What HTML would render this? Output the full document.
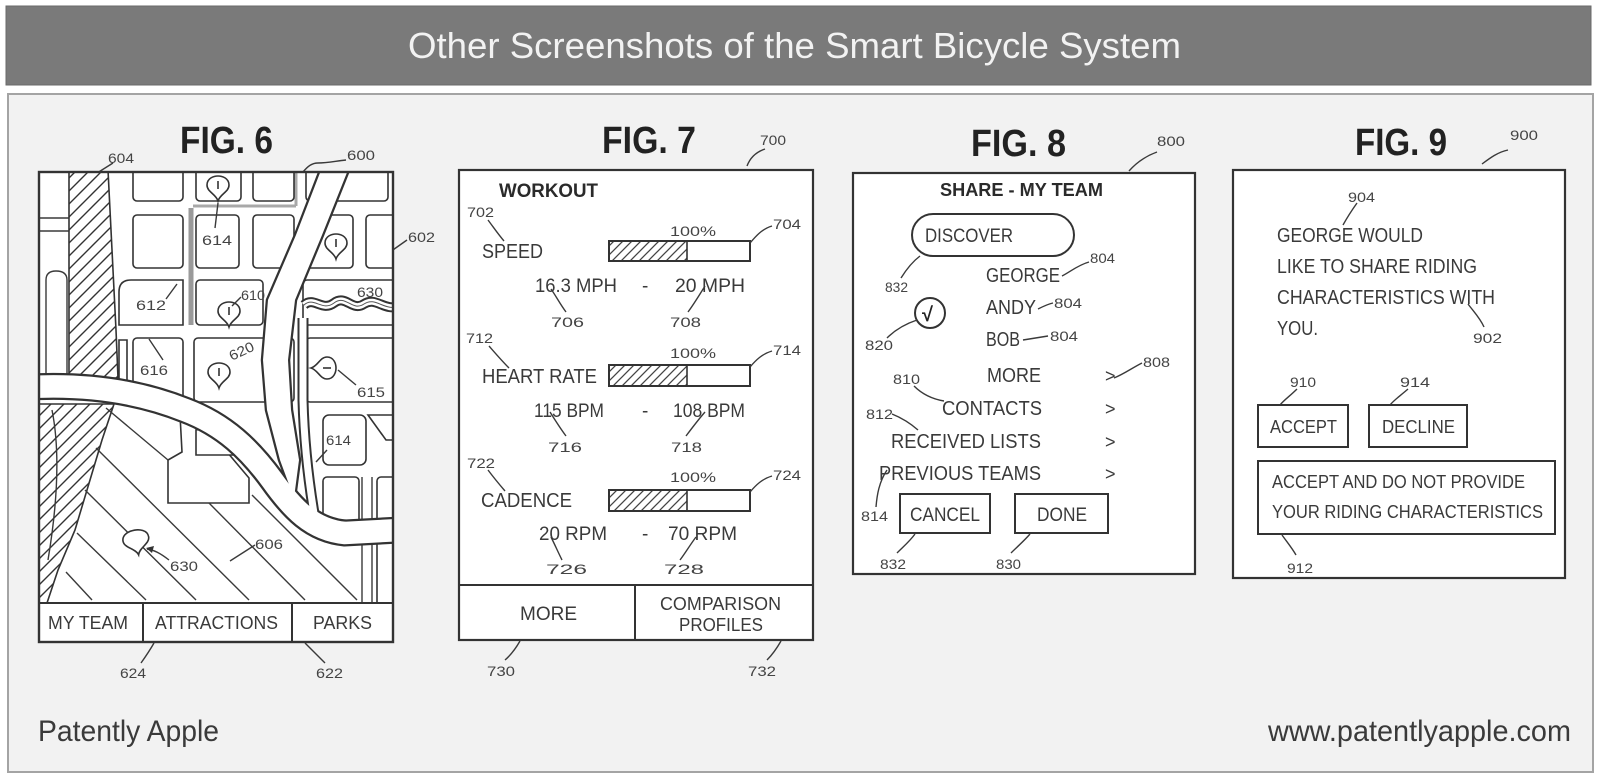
<!DOCTYPE html>
<html><head><meta charset="utf-8"><title>Other Screenshots of the Smart Bicycle System</title>
<style>
html,body{margin:0;padding:0;background:#fff;}
svg{display:block;}
text{font-family:"Liberation Sans",Arial,sans-serif;}
.t{fill:#3a3a3a;font-size:20px;}
.n{fill:#444;font-size:14px;}
.b{fill:#2a2a2a;font-size:19px;font-weight:bold;}
.f{fill:#222;font-size:38px;font-weight:bold;}
.ln{stroke:#3a3a3a;stroke-width:1.4;fill:none;}
.bx{stroke:#333;stroke-width:2.2;fill:#fff;}
.blk{stroke:#333;stroke-width:1.6;fill:#fff;}
</style></head>
<body>
<svg width="1600" height="784" viewBox="0 0 1600 784" xmlns="http://www.w3.org/2000/svg">
<defs>
  <pattern id="hb" patternUnits="userSpaceOnUse" width="9" height="9">
    <path d="M0,9 L9,0 M-2,2 L2,-2 M7,11 L11,7" stroke="#444" stroke-width="1.3"/>
  </pattern>
  <pattern id="hl" patternUnits="userSpaceOnUse" width="13" height="13">
    <path d="M0,13 L13,0 M-3,3 L3,-3 M10,16 L16,10" stroke="#333" stroke-width="1.4"/>
  </pattern>
  <clipPath id="mc"><rect x="40" y="172" width="353" height="431"/></clipPath>
</defs>

<!-- header -->
<rect x="0" y="0" width="1600" height="784" fill="#fff"/>
<rect x="6" y="6" width="1585" height="79" fill="#7a7a7a" stroke="#6a6a6a" stroke-width="1"/>
<text x="408" y="58" style="fill:#f2f2f2;font-size:36px" textLength="773" lengthAdjust="spacingAndGlyphs">Other Screenshots of the Smart Bicycle System</text>

<!-- panel -->
<rect x="8" y="94" width="1585" height="678" fill="#f2f2f2" stroke="#a4a4a4" stroke-width="2"/>

<!-- ================= FIG 6 ================= -->
<text class="f" x="180" y="153" textLength="93" lengthAdjust="spacingAndGlyphs">FIG. 6</text>
<text class="n" x="108" y="163" textLength="26" lengthAdjust="spacingAndGlyphs">604</text>
<path class="ln" d="M86,180 L113,163"/>
<text class="n" x="347" y="160" textLength="28" lengthAdjust="spacingAndGlyphs">600</text>
<path class="ln" d="M303,172 C308,166 312,163 318,163 C328,163 336,161 346,160"/>
<text class="n" x="408" y="242" textLength="27" lengthAdjust="spacingAndGlyphs">602</text>
<path class="ln" d="M390,252 L407,240"/>

<rect x="39" y="172" width="354" height="470" fill="#fff"/>
<g clip-path="url(#mc)">
  <!-- gray route highlights -->
  <path d="M191,208 L191,325" stroke="#9a9a9a" stroke-width="5"/>
  <path d="M193,206 L296,206" stroke="#a8a8a8" stroke-width="3"/>
  <path d="M296,170 L296,206" stroke="#a8a8a8" stroke-width="3"/>
  <!-- blocks -->
  <rect class="blk" x="133" y="160" width="50" height="41" rx="4"/>
  <rect class="blk" x="196" y="160" width="45" height="41" rx="4"/>
  <rect class="blk" x="253" y="160" width="41" height="41" rx="4"/>
  <rect class="blk" x="306" y="160" width="82" height="41" rx="4"/>
  <rect class="blk" x="133" y="215" width="50" height="53" rx="4"/>
  <rect class="blk" x="196" y="215" width="43" height="53" rx="4"/>
  <rect class="blk" x="253" y="215" width="41" height="53" rx="4"/>
  <rect class="blk" x="306" y="215" width="47" height="53" rx="4"/>
  <rect class="blk" x="366" y="215" width="40" height="53" rx="4"/>
  <path class="blk" d="M119,325 L119,292 Q119,280 131,280 L183,280 L183,325 Z"/>
  <rect class="blk" x="196" y="280" width="67" height="45" rx="4"/>
  <rect class="blk" x="303" y="280" width="100" height="45" rx="4"/>
  <path class="blk" d="M119,340 L119,395 L127,395 L127,340 Z"/>
  <rect class="blk" x="133" y="338" width="50" height="64" rx="4"/>
  <rect class="blk" x="194" y="338" width="100" height="64" rx="4"/>
  <rect class="blk" x="306" y="338" width="100" height="64" rx="4"/>
  <rect class="blk" x="323" y="415" width="43" height="50" rx="6"/>
  <path class="blk" d="M368,415 L400,415 L400,440 L386,440 Z"/>
  <path class="blk" d="M179,396 L182,452 L168,460 L168,503 L249,503 L249,478 L200,420 Z"/>
  <path class="blk" d="M196,430 L210,428 L236,455 L196,455 Z"/>
  <rect class="blk" x="323" y="477" width="36" height="55" rx="4"/>
  <path class="ln" d="M362,477 L362,610 M372,477 L372,610" stroke-width="1.6"/>
  <rect class="blk" x="377" y="477" width="24" height="140" rx="4"/>
  <!-- left side roads -->
  <path class="ln" d="M40,218 L69,218 M40,231 L69,231" stroke-width="1.6"/>
  <path class="ln" d="M46,380 L46,280 Q46,271 56,271 Q67,271 67,280 L67,380" stroke-width="1.6"/>
  <!-- hatched areas -->
  <path d="M69,170 L108,170 L112,250 L116,330 L118,378 L69,378 Z" fill="url(#hl)" stroke="#333" stroke-width="1.6"/>
  <path d="M38,404 L114,404 L102,440 L90,480 L75,530 L58,570 L46,606 L38,606 Z" fill="url(#hl)" stroke="#333" stroke-width="1.6"/>
  <path class="ln" d="M52,410 C60,450 58,500 48,560" stroke-width="1.6"/>
  <!-- park diagonal lines -->
  <g class="ln" stroke-width="1.6">
    <path d="M106,408 L168,460"/>
    <path d="M96,448 L249,600"/>
    <path d="M85,490 L196,600"/>
    <path d="M77,533 L146,600"/>
    <path d="M66,572 L92,600"/>
    <path d="M209,503 L305,600"/>
    <path d="M252,495 L357,600"/>
  </g>
  <!-- roads pass 1 (outline) -->
  <path d="M30,387 C90,384 140,392 185,410 C225,425 250,450 272,480 C292,508 312,530 345,533 L400,530" stroke="#333" stroke-width="27" fill="none"/>
  <polygon points="323,165 350,165 322,235 295,300 288,360 291,410 299,460 294,498 280,460 267,410 263,360 268,300 296,235" fill="#333" stroke="#333" stroke-width="4.5" stroke-linejoin="round"/>
  <path d="M303,318 L303,400 C304,440 308,480 316,525" stroke="#333" stroke-width="11" fill="none"/>
  <path d="M304,305 C314,296 322,312 334,303 C346,294 352,312 364,304 C376,296 384,312 400,306" stroke="#333" stroke-width="10" fill="none"/>
  <!-- roads pass 2 (white) -->
  <path d="M30,387 C90,384 140,392 185,410 C225,425 250,450 272,480 C292,508 312,530 345,533 L400,530" stroke="#fff" stroke-width="22.5" fill="none"/>
  <polygon points="323,165 350,165 322,235 295,300 288,360 291,410 299,460 294,498 280,460 267,410 263,360 268,300 296,235" fill="#fff"/>
  <path d="M303,318 L303,400 C304,440 308,480 316,525" stroke="#fff" stroke-width="7" fill="none"/>
  <path d="M304,305 C314,296 322,312 334,303 C346,294 352,312 364,304 C376,296 384,312 400,306" stroke="#fff" stroke-width="6" fill="none"/>
  <path d="M304,305 C314,296 322,312 334,303 C346,294 352,312 364,304 C376,296 384,312 400,306" stroke="#555" stroke-width="1" fill="none"/>
  <!-- pins -->
  <g stroke="#333" stroke-width="1.6" fill="#fff">
    <g transform="translate(218,186)"><path d="M0,15 C-2,8 -11,6 -11,-1 C-11,-8 -4,-10 0,-10 C4,-10 11,-8 11,-1 C11,6 2,8 0,15 Z"/><path d="M0,-5 L0,3"/></g>
    <g transform="translate(336,244)"><path d="M0,15 C-2,8 -11,6 -11,-1 C-11,-8 -4,-10 0,-10 C4,-10 11,-8 11,-1 C11,6 2,8 0,15 Z"/><path d="M0,-5 L0,3"/></g>
    <g transform="translate(229,312)"><path d="M0,15 C-2,8 -11,6 -11,-1 C-11,-8 -4,-10 0,-10 C4,-10 11,-8 11,-1 C11,6 2,8 0,15 Z"/><path d="M0,-5 L0,3"/></g>
    <g transform="translate(219,373)"><path d="M0,15 C-2,8 -11,6 -11,-1 C-11,-8 -4,-10 0,-10 C4,-10 11,-8 11,-1 C11,6 2,8 0,15 Z"/><path d="M0,-5 L0,3"/></g>
    <g transform="translate(326,368) rotate(90)"><path d="M0,15 C-2,8 -11,6 -11,-1 C-11,-8 -4,-10 0,-10 C4,-10 11,-8 11,-1 C11,6 2,8 0,15 Z"/><path d="M0,-5 L0,3"/></g>
    <g transform="translate(136,540) rotate(-10)"><path d="M0,15 C-2,8 -13,6 -13,-1 C-13,-8 -5,-10 0,-10 C5,-10 13,-8 13,-1 C13,6 2,8 0,15 Z"/></g>
  </g>
  <!-- map labels -->
  <text class="n" x="202" y="245" textLength="30" lengthAdjust="spacingAndGlyphs">614</text>
  <path class="ln" d="M218,203 L215,228"/>
  <text class="n" x="136" y="310" textLength="30" lengthAdjust="spacingAndGlyphs">612</text>
  <path class="ln" d="M166,299 L177,284"/>
  <text class="n" x="241" y="300" textLength="24" lengthAdjust="spacingAndGlyphs">610</text>
  <path class="ln" d="M232,306 L241,297"/>
  <text class="n" x="357" y="297" textLength="26" lengthAdjust="spacingAndGlyphs">630</text>
  <text class="n" x="228" y="356" textLength="26" lengthAdjust="spacingAndGlyphs" transform="rotate(-25 241 350)">620</text>
  <text class="n" x="140" y="375" textLength="28" lengthAdjust="spacingAndGlyphs">616</text>
  <path class="ln" d="M149,339 L163,360"/>
  <text class="n" x="357" y="397" textLength="28" lengthAdjust="spacingAndGlyphs">615</text>
  <path class="ln" d="M338,370 L356,385"/>
  <text class="n" x="326" y="445" textLength="25" lengthAdjust="spacingAndGlyphs">614</text>
  <path class="ln" d="M316,462 L327,450"/>
  <text class="n" x="255" y="549" textLength="28" lengthAdjust="spacingAndGlyphs">606</text>
  <path class="ln" d="M230,561 L255,545"/>
  <text class="n" x="170" y="571" textLength="28" lengthAdjust="spacingAndGlyphs">630</text>
  <path class="ln" d="M169,560 C160,553 154,550 147,549"/>
  <path d="M146,548 L154,546 L152,553 Z" fill="#333"/>
</g>
<!-- fig6 frame and tabs -->
<rect x="39" y="603" width="354" height="39" fill="#fff"/>
<rect x="39" y="172" width="354" height="470" fill="none" stroke="#333" stroke-width="2.4"/>
<path d="M39,603 L393,603 M143,603 L143,642 M292,603 L292,642" stroke="#333" stroke-width="2"/>
<text class="t" x="48" y="629" style="font-size:18px" textLength="80" lengthAdjust="spacingAndGlyphs">MY TEAM</text>
<text class="t" x="155" y="629" style="font-size:18px" textLength="123" lengthAdjust="spacingAndGlyphs">ATTRACTIONS</text>
<text class="t" x="313" y="629" style="font-size:18px" textLength="59" lengthAdjust="spacingAndGlyphs">PARKS</text>
<text class="n" x="120" y="678" textLength="26" lengthAdjust="spacingAndGlyphs">624</text>
<path class="ln" d="M154,643 C150,650 146,656 141,663"/>
<text class="n" x="316" y="678" textLength="27" lengthAdjust="spacingAndGlyphs">622</text>
<path class="ln" d="M305,643 C312,650 318,656 325,663"/>

<!-- ================= FIG 7 ================= -->
<text class="f" x="602" y="153" textLength="94" lengthAdjust="spacingAndGlyphs">FIG. 7</text>
<text class="n" x="760" y="145" textLength="26" lengthAdjust="spacingAndGlyphs">700</text>
<path class="ln" d="M747,166 C750,158 756,152 765,149"/>
<rect class="bx" x="459" y="170" width="354" height="470"/>
<text class="b" x="499" y="197" textLength="99" lengthAdjust="spacingAndGlyphs">WORKOUT</text>

<text class="n" x="467" y="217" textLength="27" lengthAdjust="spacingAndGlyphs">702</text>
<path class="ln" d="M488,220 C494,228 498,234 504,241"/>
<text class="t" x="482" y="258" textLength="61" lengthAdjust="spacingAndGlyphs">SPEED</text>
<text class="n" x="670" y="236" textLength="46" lengthAdjust="spacingAndGlyphs">100%</text>
<rect x="609" y="241" width="78" height="20" fill="url(#hb)"/>
<rect x="609" y="241" width="141" height="20" fill="none" stroke="#333" stroke-width="2"/>
<path d="M687,241 L687,261" stroke="#333" stroke-width="1.6"/>
<text class="n" x="773" y="229" textLength="28" lengthAdjust="spacingAndGlyphs">704</text>
<path class="ln" d="M750,243 C756,236 762,229 772,226"/>
<text class="t" x="535" y="292" style="font-size:19px" textLength="82" lengthAdjust="spacingAndGlyphs">16.3 MPH</text>
<text class="t" x="642" y="292" style="font-size:19px">-</text>
<text class="t" x="675" y="292" style="font-size:19px" textLength="70" lengthAdjust="spacingAndGlyphs">20 MPH</text>
<text class="n" x="551" y="327" textLength="33" lengthAdjust="spacingAndGlyphs">706</text>
<path class="ln" d="M566,312 C560,304 556,296 551,289"/>
<text class="n" x="670" y="327" textLength="31" lengthAdjust="spacingAndGlyphs">708</text>
<path class="ln" d="M688,312 C694,304 700,294 705,286"/>

<text class="n" x="466" y="343" textLength="27" lengthAdjust="spacingAndGlyphs">712</text>
<path class="ln" d="M489,346 C496,354 502,361 509,368"/>
<text class="t" x="482" y="383" textLength="115" lengthAdjust="spacingAndGlyphs">HEART RATE</text>
<text class="n" x="670" y="358" textLength="46" lengthAdjust="spacingAndGlyphs">100%</text>
<rect x="609" y="365" width="78" height="21" fill="url(#hb)"/>
<rect x="609" y="365" width="141" height="21" fill="none" stroke="#333" stroke-width="2"/>
<path d="M687,365 L687,386" stroke="#333" stroke-width="1.6"/>
<text class="n" x="773" y="355" textLength="28" lengthAdjust="spacingAndGlyphs">714</text>
<path class="ln" d="M750,367 C756,360 762,354 772,351"/>
<text class="t" x="534" y="417" style="font-size:19px" textLength="70" lengthAdjust="spacingAndGlyphs">115 BPM</text>
<text class="t" x="642" y="417" style="font-size:19px">-</text>
<text class="t" x="673" y="417" style="font-size:19px" textLength="72" lengthAdjust="spacingAndGlyphs">108 BPM</text>
<text class="n" x="548" y="452" textLength="34" lengthAdjust="spacingAndGlyphs">716</text>
<path class="ln" d="M566,436 C560,428 555,420 550,412"/>
<text class="n" x="671" y="452" textLength="31" lengthAdjust="spacingAndGlyphs">718</text>
<path class="ln" d="M686,436 C692,428 698,420 705,412"/>

<text class="n" x="467" y="468" textLength="28" lengthAdjust="spacingAndGlyphs">722</text>
<path class="ln" d="M488,470 C494,478 499,484 505,491"/>
<text class="t" x="481" y="507" textLength="91" lengthAdjust="spacingAndGlyphs">CADENCE</text>
<text class="n" x="670" y="482" textLength="46" lengthAdjust="spacingAndGlyphs">100%</text>
<rect x="609" y="490" width="78" height="21" fill="url(#hb)"/>
<rect x="609" y="490" width="141" height="21" fill="none" stroke="#333" stroke-width="2"/>
<path d="M687,490 L687,511" stroke="#333" stroke-width="1.6"/>
<text class="n" x="773" y="480" textLength="28" lengthAdjust="spacingAndGlyphs">724</text>
<path class="ln" d="M750,492 C756,485 762,479 772,476"/>
<text class="t" x="539" y="540" style="font-size:19px" textLength="68" lengthAdjust="spacingAndGlyphs">20 RPM</text>
<text class="t" x="642" y="540" style="font-size:19px">-</text>
<text class="t" x="668" y="540" style="font-size:19px" textLength="69" lengthAdjust="spacingAndGlyphs">70 RPM</text>
<text class="n" x="546" y="574" textLength="41" lengthAdjust="spacingAndGlyphs">726</text>
<path class="ln" d="M562,560 C558,552 555,545 551,537"/>
<text class="n" x="664" y="574" textLength="40" lengthAdjust="spacingAndGlyphs">728</text>
<path class="ln" d="M680,560 C686,552 690,545 696,537"/>

<path d="M459,585 L813,585 M635,585 L635,640" stroke="#333" stroke-width="2"/>
<text class="t" x="520" y="620" style="font-size:19px" textLength="57" lengthAdjust="spacingAndGlyphs">MORE</text>
<text class="t" x="660" y="610" style="font-size:18px" textLength="121" lengthAdjust="spacingAndGlyphs">COMPARISON</text>
<text class="t" x="679" y="631" style="font-size:18px" textLength="84" lengthAdjust="spacingAndGlyphs">PROFILES</text>
<text class="n" x="487" y="676" textLength="28" lengthAdjust="spacingAndGlyphs">730</text>
<path class="ln" d="M520,641 C516,648 512,654 505,660"/>
<text class="n" x="748" y="676" textLength="28" lengthAdjust="spacingAndGlyphs">732</text>
<path class="ln" d="M781,641 C777,648 773,654 767,660"/>

<!-- ================= FIG 8 ================= -->
<text class="f" x="971" y="156" textLength="95" lengthAdjust="spacingAndGlyphs">FIG. 8</text>
<text class="n" x="1157" y="146" textLength="28" lengthAdjust="spacingAndGlyphs">800</text>
<path class="ln" d="M1129,171 C1136,163 1146,156 1157,152"/>
<rect class="bx" x="853" y="173" width="342" height="401"/>
<text class="b" x="940" y="196" style="font-size:18px" textLength="163" lengthAdjust="spacingAndGlyphs">SHARE - MY TEAM</text>
<rect x="912" y="214" width="162" height="42" rx="21" fill="#fff" stroke="#333" stroke-width="2"/>
<text class="t" x="925" y="242" style="font-size:19px" textLength="88" lengthAdjust="spacingAndGlyphs">DISCOVER</text>
<text class="t" x="986" y="282" textLength="74" lengthAdjust="spacingAndGlyphs">GEORGE</text>
<path class="ln" d="M1062,276 C1070,272 1078,265 1089,262"/>
<text class="n" x="1090" y="263" textLength="25" lengthAdjust="spacingAndGlyphs">804</text>
<text class="t" x="986" y="314" textLength="50" lengthAdjust="spacingAndGlyphs">ANDY</text>
<path class="ln" d="M1038,309 C1044,306 1048,304 1053,303"/>
<text class="n" x="1054" y="308" textLength="28" lengthAdjust="spacingAndGlyphs">804</text>
<text class="t" x="986" y="346" textLength="34" lengthAdjust="spacingAndGlyphs">BOB</text>
<path class="ln" d="M1023,340 L1048,336"/>
<text class="n" x="1050" y="341" textLength="28" lengthAdjust="spacingAndGlyphs">804</text>
<text class="n" x="885" y="292" textLength="23" lengthAdjust="spacingAndGlyphs">832</text>
<path class="ln" d="M901,278 C906,270 912,262 920,256"/>
<circle cx="930" cy="313" r="15" fill="#fff" stroke="#333" stroke-width="2"/>
<text x="922" y="321" style="fill:#222;font-size:20px;font-weight:bold">√</text>
<text class="n" x="865" y="350" textLength="28" lengthAdjust="spacingAndGlyphs">820</text>
<path class="ln" d="M887,338 C895,330 905,324 917,320"/>
<text class="t" x="987" y="382" textLength="54" lengthAdjust="spacingAndGlyphs">MORE</text>
<text class="t" x="1105" y="382" style="font-size:18px">&gt;</text>
<path class="ln" d="M1114,378 C1124,374 1132,368 1142,363"/>
<text class="n" x="1143" y="367" textLength="27" lengthAdjust="spacingAndGlyphs">808</text>
<text class="n" x="893" y="384" textLength="27" lengthAdjust="spacingAndGlyphs">810</text>
<path class="ln" d="M914,386 C922,394 932,399 944,401"/>
<text class="t" x="942" y="415" textLength="100" lengthAdjust="spacingAndGlyphs">CONTACTS</text>
<text class="t" x="1105" y="415" style="font-size:18px">&gt;</text>
<text class="n" x="866" y="419" textLength="27" lengthAdjust="spacingAndGlyphs">812</text>
<path class="ln" d="M892,414 C902,418 910,423 918,430"/>
<text class="t" x="891" y="448" textLength="150" lengthAdjust="spacingAndGlyphs">RECEIVED LISTS</text>
<text class="t" x="1105" y="448" style="font-size:18px">&gt;</text>
<text class="t" x="879" y="480" textLength="162" lengthAdjust="spacingAndGlyphs">PREVIOUS TEAMS</text>
<text class="t" x="1105" y="480" style="font-size:18px">&gt;</text>
<text class="n" x="861" y="521" textLength="27" lengthAdjust="spacingAndGlyphs">814</text>
<path class="ln" d="M876,507 C877,495 879,482 887,470"/>
<rect x="900" y="494" width="90" height="39" fill="#fff" stroke="#333" stroke-width="2"/>
<text class="t" x="910" y="521" style="font-size:19px" textLength="70" lengthAdjust="spacingAndGlyphs">CANCEL</text>
<rect x="1015" y="494" width="93" height="39" fill="#fff" stroke="#333" stroke-width="2"/>
<text class="t" x="1037" y="521" style="font-size:19px" textLength="50" lengthAdjust="spacingAndGlyphs">DONE</text>
<text class="n" x="880" y="569" textLength="26" lengthAdjust="spacingAndGlyphs">832</text>
<path class="ln" d="M915,534 C910,541 904,546 897,553"/>
<text class="n" x="996" y="569" textLength="25" lengthAdjust="spacingAndGlyphs">830</text>
<path class="ln" d="M1030,534 C1024,541 1018,546 1011,553"/>

<!-- ================= FIG 9 ================= -->
<text class="f" x="1355" y="155" textLength="92" lengthAdjust="spacingAndGlyphs">FIG. 9</text>
<text class="n" x="1510" y="140" textLength="28" lengthAdjust="spacingAndGlyphs">900</text>
<path class="ln" d="M1482,164 C1490,158 1498,152 1508,150"/>
<rect class="bx" x="1233" y="170" width="332" height="408"/>
<text class="n" x="1348" y="202" textLength="27" lengthAdjust="spacingAndGlyphs">904</text>
<path class="ln" d="M1343,225 C1348,216 1352,210 1357,203"/>
<text class="t" x="1277" y="242" textLength="146" lengthAdjust="spacingAndGlyphs">GEORGE WOULD</text>
<text class="t" x="1277" y="273" textLength="200" lengthAdjust="spacingAndGlyphs">LIKE TO SHARE RIDING</text>
<text class="t" x="1277" y="304" textLength="218" lengthAdjust="spacingAndGlyphs">CHARACTERISTICS WITH</text>
<text class="t" x="1277" y="335" textLength="41" lengthAdjust="spacingAndGlyphs">YOU.</text>
<text class="n" x="1473" y="343" textLength="29" lengthAdjust="spacingAndGlyphs">902</text>
<path class="ln" d="M1468,304 C1474,312 1480,318 1484,327"/>
<text class="n" x="1290" y="387" textLength="26" lengthAdjust="spacingAndGlyphs">910</text>
<path class="ln" d="M1297,389 C1290,396 1284,400 1280,405"/>
<text class="n" x="1400" y="387" textLength="30" lengthAdjust="spacingAndGlyphs">914</text>
<path class="ln" d="M1408,389 C1400,396 1394,400 1390,405"/>
<rect x="1258" y="405" width="90" height="42" fill="#fff" stroke="#333" stroke-width="2"/>
<text class="t" x="1270" y="433" style="font-size:18px" textLength="67" lengthAdjust="spacingAndGlyphs">ACCEPT</text>
<rect x="1369" y="405" width="98" height="42" fill="#fff" stroke="#333" stroke-width="2"/>
<text class="t" x="1382" y="433" style="font-size:18px" textLength="73" lengthAdjust="spacingAndGlyphs">DECLINE</text>
<rect x="1258" y="461" width="297" height="73" fill="#fff" stroke="#333" stroke-width="2"/>
<text class="t" x="1272" y="488" style="font-size:18px" textLength="253" lengthAdjust="spacingAndGlyphs">ACCEPT AND DO NOT PROVIDE</text>
<text class="t" x="1272" y="518" style="font-size:18px" textLength="271" lengthAdjust="spacingAndGlyphs">YOUR RIDING CHARACTERISTICS</text>
<text class="n" x="1287" y="573" textLength="26" lengthAdjust="spacingAndGlyphs">912</text>
<path class="ln" d="M1282,535 C1287,542 1292,548 1296,555"/>

<!-- footer -->
<text x="38" y="741" style="fill:#3a3a3a;font-size:30px" textLength="181" lengthAdjust="spacingAndGlyphs">Patently Apple</text>
<text x="1268" y="741" style="fill:#3a3a3a;font-size:30px" textLength="303" lengthAdjust="spacingAndGlyphs">www.patentlyapple.com</text>
</svg>
</body></html>
